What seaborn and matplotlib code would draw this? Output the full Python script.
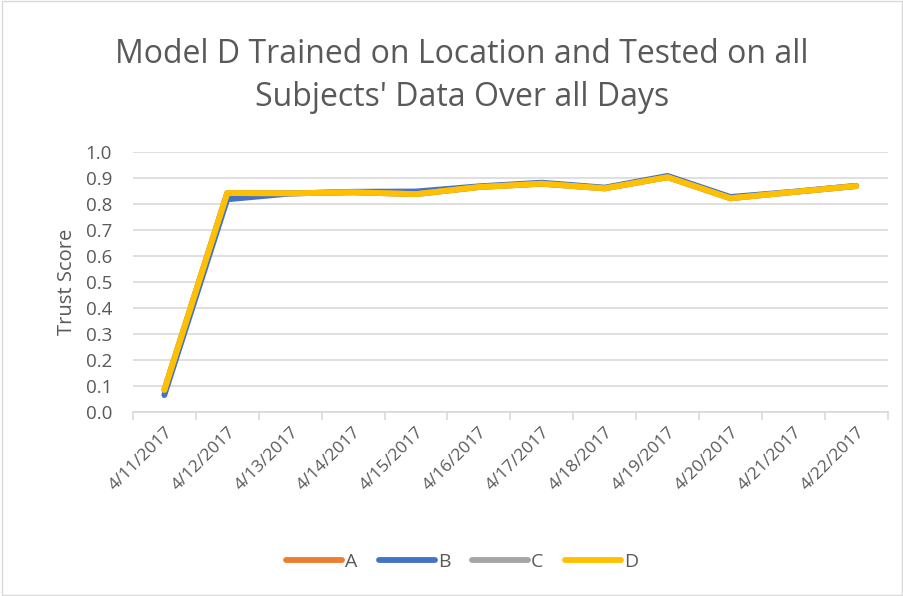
import pandas as pd
import numpy as np
import seaborn as sns
import matplotlib.pyplot as plt
from matplotlib.patches import Rectangle

dates = ["4/11/2017", "4/12/2017", "4/13/2017", "4/14/2017", "4/15/2017", "4/16/2017",
         "4/17/2017", "4/18/2017", "4/19/2017", "4/20/2017", "4/21/2017", "4/22/2017"]
series_a = [0.085, 0.842, 0.841, 0.845, 0.838, 0.865, 0.878, 0.860, 0.903, 0.822, 0.846, 0.869]
series_b = [0.065, 0.818, 0.840, 0.847, 0.848, 0.868, 0.882, 0.863, 0.908, 0.827, 0.847, 0.870]
series_c = [0.085, 0.842, 0.841, 0.845, 0.838, 0.865, 0.878, 0.860, 0.903, 0.822, 0.846, 0.869]
series_d = [0.085, 0.842, 0.841, 0.845, 0.838, 0.865, 0.878, 0.860, 0.903, 0.822, 0.846, 0.869]
names = ["A", "B", "C", "D"]
colors = ["#ED7D31", "#4472C4", "#A5A5A5", "#FFC000"]

rows = []
for name, vals in zip(names, [series_a, series_b, series_c, series_d]):
    for i, v in enumerate(vals):
        rows.append({"idx": i, "Score": v, "Model": name})
df = pd.DataFrame(rows)

sns.set_theme(style="white")
plt.rcParams['font.family'] = ['Open Sans', 'DejaVu Sans']

fig = plt.figure(figsize=(9.04, 5.96), dpi=100)
ax = fig.add_axes([0.147, 0.3087, 0.982 - 0.147, 0.745 - 0.3087])

sns.lineplot(data=df, x="idx", y="Score", hue="Model", palette=colors,
             linewidth=4.2, ax=ax, legend=False, solid_capstyle="round")

ax.set_xlim(-0.5, len(dates) - 0.5)
ax.set_ylim(0, 1.0)
ax.set_yticks(np.arange(0, 1.01, 0.1))
ax.set_yticklabels([f"{v:.1f}" for v in np.arange(0, 1.01, 0.1)], fontsize=13.5, color="#595959")
ax.yaxis.grid(True, color="#D9D9D9", linewidth=1.2)
ax.set_axisbelow(True)
ax.tick_params(axis="y", length=0, pad=15)

ax.set_xticks(range(len(dates)))
ax.set_xticklabels(dates, rotation=45, ha="right", rotation_mode="anchor",
                   fontsize=12.5, color="#595959")
ax.set_xticks(np.arange(-0.5, len(dates), 1.0), minor=True)
ax.tick_params(axis="x", which="major", length=0, pad=9)
ax.tick_params(axis="x", which="minor", length=6, color="#D9D9D9", width=1.2, bottom=True)

for s in ["top", "right", "left"]:
    ax.spines[s].set_visible(False)
ax.spines["bottom"].set_color("#D9D9D9")
ax.spines["bottom"].set_linewidth(1.2)

ax.set_xlabel("")
ax.set_ylabel("Trust Score", fontsize=14.5, color="#595959", labelpad=6)

fig.text(0.511, 0.873, "Model D Trained on Location and Tested on all\nSubjects' Data Over all Days",
         ha="center", va="center", fontsize=23, color="#595959", linespacing=1.4)

handles = [plt.Line2D([], [], color=c, linewidth=4.2, solid_capstyle="round") for c in colors]
fig.legend(handles, names, loc="center", bbox_to_anchor=(0.511, 0.057), ncol=4, frameon=False,
           fontsize=14, handlelength=2.9, handletextpad=0.15, columnspacing=1.1,
           labelcolor="#595959")

fig.patches.append(Rectangle((0.002, 0.002), 0.996, 0.996, transform=fig.transFigure,
                             fill=False, edgecolor="#D9D9D9", linewidth=1))

fig.savefig("out.png", dpi=100, facecolor="white")
